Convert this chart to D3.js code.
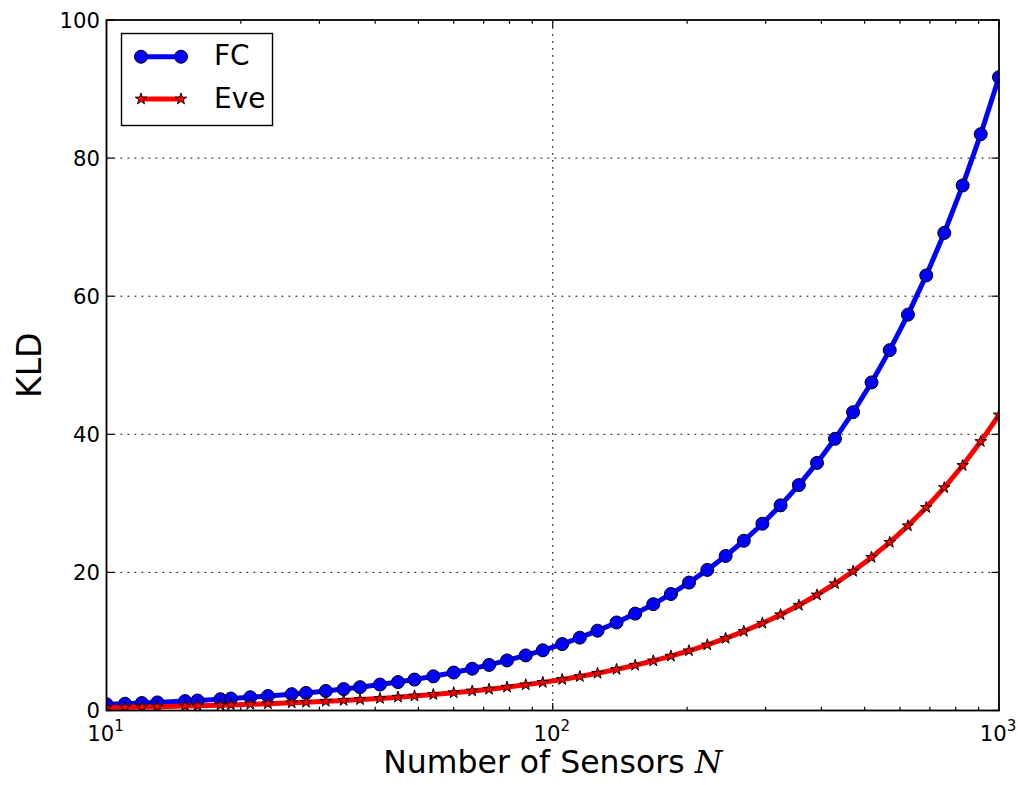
<!DOCTYPE html>
<html>
<head>
<meta charset="utf-8">
<script src="https://cdn.jsdelivr.net/npm/d3@7"></script>
<style>
  body { margin: 0; background: #fff; }
  svg { display: block; font-family: 'DejaVu Sans', sans-serif; }
</style>
</head>
<body>
<svg width="1018" height="785"></svg>
<script>
// number of sensors (x, log axis)
const sensors = [10, 11, 12, 13, 15, 16, 18, 19, 21, 23, 26, 28, 31, 34, 37, 41, 45, 49, 54, 60,
  66, 72, 79, 87, 95, 105, 115, 126, 139, 153, 168, 184, 202, 222, 244, 268, 295, 324, 356, 391,
  429, 471, 518, 569, 625, 687, 754, 829, 910, 1000];

const fcValues = [0.91, 0.98, 1.08, 1.17, 1.36, 1.45, 1.63, 1.73, 1.92, 2.10, 2.37, 2.55, 2.83, 3.10, 3.38, 3.76, 4.12, 4.48, 4.95, 5.50,
  6.05, 6.60, 7.25, 7.98, 8.72, 9.62, 10.55, 11.56, 12.75, 14.03, 15.40, 16.87, 18.53, 20.36, 22.38, 24.58, 27.05, 29.71, 32.65, 35.86,
  39.35, 43.20, 47.51, 52.19, 57.33, 63.01, 69.16, 76.04, 83.47, 91.72];

const eveValues = [0.43, 0.47, 0.51, 0.56, 0.64, 0.68, 0.77, 0.81, 0.90, 0.98, 1.11, 1.20, 1.33, 1.46, 1.58, 1.75, 1.93, 2.10, 2.31, 2.57,
  2.82, 3.08, 3.38, 3.72, 4.07, 4.49, 4.92, 5.39, 5.95, 6.55, 7.19, 7.88, 8.65, 9.50, 10.44, 11.47, 12.63, 13.87, 15.24, 16.73,
  18.36, 20.16, 22.17, 24.35, 26.75, 29.40, 32.27, 35.48, 38.95, 42.80];

const xMajor = [10, 100, 1000];
const xExponents = ['1', '2', '3'];
const xMinor = [20, 30, 40, 50, 60, 70, 80, 90, 200, 300, 400, 500, 600, 700, 800, 900];
const yTicks = [0, 20, 40, 60, 80, 100];

const seriesNames = ['FC', 'Eve'];

const svg = d3.select('svg');
const pLeft = 106.5, pRight = 999, pTop = 20, pBottom = 710.5;

const x = d3.scaleLog().domain([10, 1000]).range([pLeft, pRight]);
const y = d3.scaleLinear().domain([0, 100]).range([pBottom, pTop]);

svg.append('rect').attr('width', 1018).attr('height', 785).attr('fill', '#fff');

svg.append('clipPath').attr('id', 'plot')
  .append('rect').attr('x', pLeft).attr('y', pTop).attr('width', pRight - pLeft).attr('height', pBottom - pTop);

// grid
const grid = svg.append('g').attr('stroke', '#000').attr('stroke-width', 1).attr('stroke-dasharray', '1.8,5.2');
grid.selectAll('.gx').data(xMajor.slice(1, -1)).join('line')
  .attr('x1', d => x(d)).attr('x2', d => x(d)).attr('y1', pTop).attr('y2', pBottom);
grid.selectAll('.gy').data(yTicks.slice(1, -1)).join('line')
  .attr('y1', d => y(d)).attr('y2', d => y(d)).attr('x1', pLeft).attr('x2', pRight);

// ticks, all pointing inward
const ticks = svg.append('g').attr('stroke', '#000').attr('stroke-width', 1.2);
function xTick(list, len) {
  list.forEach(d => {
    ticks.append('line').attr('x1', x(d)).attr('x2', x(d)).attr('y1', pBottom).attr('y2', pBottom - len);
    ticks.append('line').attr('x1', x(d)).attr('x2', x(d)).attr('y1', pTop).attr('y2', pTop + len);
  });
}
xTick(xMajor, 7.5);
xTick(xMinor, 3.8);
yTicks.forEach(d => {
  ticks.append('line').attr('x1', pLeft).attr('x2', pLeft + 7.5).attr('y1', y(d)).attr('y2', y(d));
  ticks.append('line').attr('x1', pRight).attr('x2', pRight - 7.5).attr('y1', y(d)).attr('y2', y(d));
});

// series
const star = d3.symbol().type(d3.symbolStar).size(42);

function drawSeries(g, values, color, marker) {
  const line = d3.line().x((d, i) => x(sensors[i])).y(d => y(d));
  g.append('path').datum(values)
    .attr('d', line).attr('fill', 'none').attr('stroke', color)
    .attr('stroke-width', 5).attr('stroke-linejoin', 'round');
  if (marker === 'circle') {
    g.selectAll('circle').data(values).join('circle')
      .attr('cx', (d, i) => x(sensors[i])).attr('cy', d => y(d)).attr('r', 6.5)
      .attr('fill', color).attr('stroke', '#000').attr('stroke-width', 1);
  } else {
    g.selectAll('.star').data(values).join('path')
      .attr('d', star)
      .attr('transform', (d, i) => `translate(${x(sensors[i])},${y(d)})`)
      .attr('fill', color).attr('stroke', '#000').attr('stroke-width', 0.9);
  }
}

const plot = svg.append('g').attr('clip-path', 'url(#plot)');
drawSeries(plot.append('g'), fcValues, '#0000ff', 'circle');
drawSeries(plot.append('g'), eveValues, '#ff0000', 'star');

// frame
svg.append('rect').attr('x', pLeft).attr('y', pTop).attr('width', pRight - pLeft).attr('height', pBottom - pTop)
  .attr('fill', 'none').attr('stroke', '#000').attr('stroke-width', 1.8);

// tick labels
svg.append('g').selectAll('text').data(yTicks).join('text')
  .attr('x', pLeft - 6.5).attr('y', d => y(d)).attr('dy', '0.36em')
  .attr('text-anchor', 'end').attr('font-size', 21.2).text(d => d);

const xl = svg.append('g').selectAll('text').data(xMajor).join('text')
  .attr('x', d => x(d) - 1).attr('y', 741).attr('text-anchor', 'middle').attr('font-size', 21.2);
xl.append('tspan').text('10');
xl.append('tspan').attr('dy', -10).attr('font-size', 15).text((d, i) => xExponents[i]);

// axis labels
const xLabel = svg.append('text').attr('x', (pLeft + pRight) / 2).attr('y', 773)
  .attr('text-anchor', 'middle').attr('font-size', 31.5);
xLabel.append('tspan').text('Number of Sensors ');
xLabel.append('tspan').attr('font-family', "'DejaVu Serif', serif").attr('font-style', 'italic').text('N');

svg.append('text').attr('transform', `translate(41,${(pTop + pBottom) / 2}) rotate(-90)`)
  .attr('text-anchor', 'middle').attr('font-size', 33).text('KLD');

// legend
const legend = svg.append('g');
legend.append('rect').attr('x', 121.5).attr('y', 33.5).attr('width', 151).attr('height', 92)
  .attr('fill', '#fff').attr('stroke', '#000').attr('stroke-width', 1.4);

const legendRows = [
  { name: seriesNames[0], color: '#0000ff', marker: 'circle', y: 56.7, base: 65 },
  { name: seriesNames[1], color: '#ff0000', marker: 'star', y: 99, base: 108 },
];
legendRows.forEach(r => {
  legend.append('line').attr('x1', 141).attr('x2', 181).attr('y1', r.y).attr('y2', r.y)
    .attr('stroke', r.color).attr('stroke-width', 5);
  [141, 181].forEach(px => {
    if (r.marker === 'circle') {
      legend.append('circle').attr('cx', px).attr('cy', r.y).attr('r', 6.5)
        .attr('fill', r.color).attr('stroke', '#000').attr('stroke-width', 1);
    } else {
      legend.append('path').attr('d', star).attr('transform', `translate(${px},${r.y})`)
        .attr('fill', r.color).attr('stroke', '#000').attr('stroke-width', 0.9);
    }
  });
  legend.append('text').attr('x', 214).attr('y', r.base).attr('font-size', 28).text(r.name);
});
</script>
</body>
</html>
